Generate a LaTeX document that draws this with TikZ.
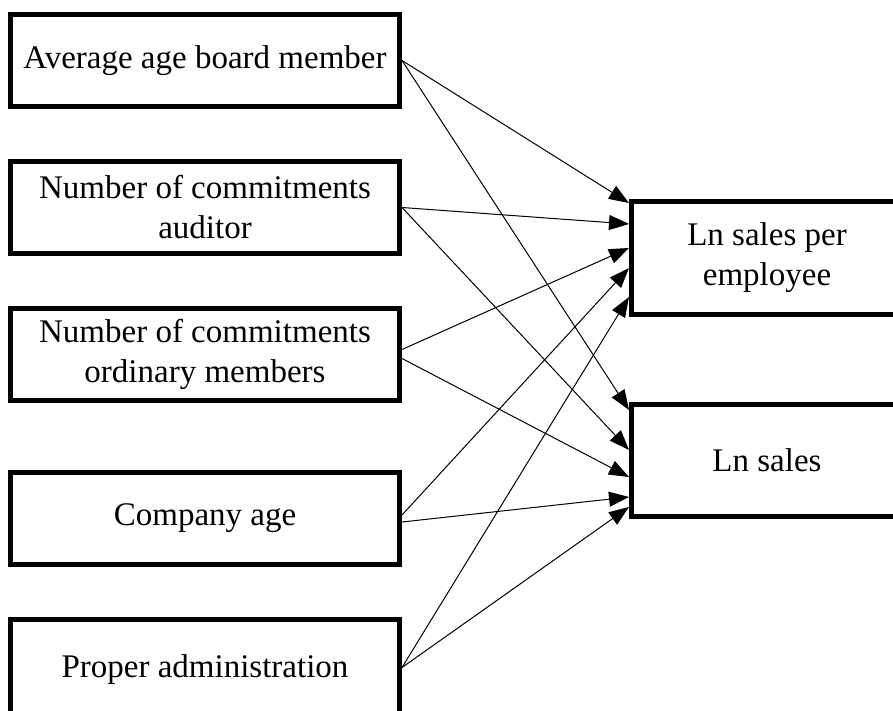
\documentclass[tikz,border=0pt]{standalone}
\usepackage{fontspec}
\setmainfont{Liberation Serif}
\usetikzlibrary{arrows.meta,positioning}

\begin{document}
\begin{tikzpicture}[x=0.5pt,y=-0.5pt,->,>={Triangle[length=10pt,width=7.5pt]},line width=0.5pt,
                    node distance=25pt]
	\tikzstyle{factor}=[draw,line width=2.5pt,minimum width=194.5pt,minimum height=46pt,
	                    align=center,inner sep=0pt,font=\fontsize{16.5}{20}\selectfont]
	\tikzstyle{outcome}=[factor,minimum width=135.5pt,minimum height=56pt]

	\useasboundingbox (0,0) rectangle (893,711);

	\node[factor] (avg) at (205,60.5)       {Average age board member};
	\node[factor] (aud) [below=of avg]      {Number of commitments\\auditor};
	\node[factor] (ord) [below=of aud]      {Number of commitments\\ordinary members};
	\node[factor] (co)  [below=33.5pt of ord] {Company age};
	\node[factor] (pa)  [below=of co,minimum height=50pt] {Proper administration};

	\node[outcome] (lspe) at (767,258)      {Ln sales per\\employee};
	\node[outcome] (ls)   [below=42.5pt of lspe] {Ln sales};

	\path (avg.east) edge ([yshift=27.5pt]lspe.west)
				(avg.east) edge ([yshift=25pt]ls.west)
				(aud.east) edge ([yshift=17pt]lspe.west)
				(aud.east) edge ([yshift=5pt]ls.west)
				([yshift=2.5pt]ord.east) edge ([yshift=5pt]lspe.west)
				([yshift=-2pt]ord.east) edge ([yshift=-8.5pt]ls.west)
				([yshift=1.75pt]co.east) edge ([yshift=-5pt]lspe.west)
				([yshift=-1.75pt]co.east) edge ([yshift=-18.5pt]ls.west)
				([yshift=1pt]pa.east) edge ([yshift=-19.5pt]lspe.west)
				([yshift=1pt]pa.east) edge ([yshift=-23.5pt]ls.west);
	%(lspe) edge (ls);
\end{tikzpicture}
\end{document}
